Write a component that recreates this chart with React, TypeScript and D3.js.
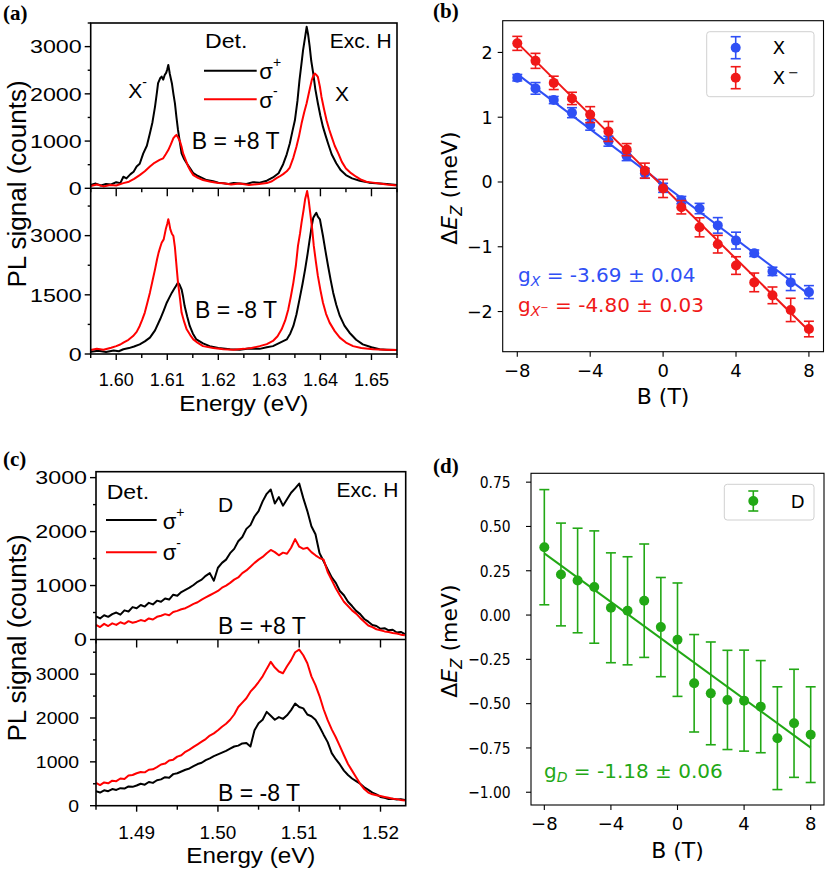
import React from 'react';
import * as d3 from 'd3';

const W = 825;
const H = 869;
const LF = '"Liberation Sans", Arial, sans-serif';
const MF = '"DejaVu Sans", sans-serif';
const SF = '"Liberation Serif", "DejaVu Serif", serif';
const BLACK = '#000000';
const RED = '#ff0000';
const BLUE = '#2f4ff5';
const MRED = '#f01818';
const GREEN = '#22a815';

// ---------- Panel (a): spectra, X and X- ----------
const aTopPlusE = [1.595, 1.596, 1.597, 1.598, 1.599, 1.6, 1.6008, 1.6014, 1.602, 1.6028, 1.6034, 1.604, 1.6046, 1.6053, 1.606, 1.6066, 1.6071, 1.6076, 1.608, 1.6082, 1.6086, 1.6089, 1.6092, 1.6095, 1.6098, 1.61, 1.6102, 1.6105, 1.6109, 1.6112, 1.6115, 1.6118, 1.6121, 1.6125, 1.6128, 1.6133, 1.6138, 1.6145, 1.6151, 1.616, 1.6168, 1.6177, 1.619, 1.62, 1.621, 1.622, 1.623, 1.6242, 1.6255, 1.6268, 1.6281, 1.6295, 1.6307, 1.6318, 1.6327, 1.6334, 1.634, 1.6345, 1.635, 1.6355, 1.6359, 1.6363, 1.6366, 1.637, 1.6373, 1.6376, 1.6379, 1.6382, 1.6386, 1.639, 1.6395, 1.64, 1.6405, 1.641, 1.6415, 1.6422, 1.6431, 1.644, 1.645, 1.6462, 1.6477, 1.6495, 1.6516, 1.653, 1.655];
const aTopPlusI = [70, 100, 60, 90, 80, 130, 110, 245, 210, 300, 350, 460, 520, 740, 900, 1165, 1400, 1730, 2050, 2225, 2330, 2365, 2300, 2400, 2450, 2520, 2612, 2420, 2225, 2000, 1800, 1500, 1235, 950, 740, 620, 530, 420, 320, 260, 220, 175, 150, 120, 105, 90, 110, 100, 90, 130, 120, 160, 230, 320, 510, 720, 950, 1200, 1440, 1850, 2290, 2650, 2925, 3200, 3420, 3250, 3000, 2700, 2430, 2100, 1800, 1530, 1300, 1120, 950, 720, 530, 380, 280, 210, 160, 120, 100, 90, 70];
const aTopMinusE = [1.595, 1.5962, 1.5975, 1.5988, 1.6, 1.6014, 1.6025, 1.6035, 1.6046, 1.6056, 1.6066, 1.6075, 1.6085, 1.6092, 1.6097, 1.6102, 1.6107, 1.6112, 1.6115, 1.6118, 1.6121, 1.6125, 1.6128, 1.6131, 1.6136, 1.6141, 1.6146, 1.6151, 1.616, 1.617, 1.6185, 1.62, 1.621, 1.6225, 1.6242, 1.626, 1.628, 1.6295, 1.6305, 1.6314, 1.632, 1.6327, 1.6334, 1.634, 1.6347, 1.6353, 1.6358, 1.6363, 1.6368, 1.6373, 1.6378, 1.6383, 1.6386, 1.6389, 1.6392, 1.6395, 1.6399, 1.6402, 1.6407, 1.6412, 1.6417, 1.6422, 1.6428, 1.6435, 1.6442, 1.645, 1.646, 1.647, 1.648, 1.649, 1.6503, 1.6516, 1.653, 1.655];
const aTopMinusI = [50, 80, 40, 70, 60, 110, 140, 200, 280, 360, 460, 540, 600, 635, 720, 810, 930, 1060, 1100, 1130, 1080, 990, 880, 740, 600, 460, 360, 280, 220, 175, 140, 110, 105, 80, 100, 70, 90, 110, 150, 215, 250, 300, 360, 440, 650, 880, 1100, 1370, 1600, 1800, 2050, 2290, 2380, 2430, 2400, 2360, 2150, 1940, 1680, 1440, 1250, 1090, 900, 740, 560, 420, 320, 245, 180, 140, 120, 100, 80, 60];
const aBotPlusE = [1.595, 1.5965, 1.598, 1.5995, 1.6005, 1.6014, 1.6025, 1.6035, 1.6046, 1.6056, 1.6066, 1.6076, 1.6086, 1.6093, 1.6099, 1.6104, 1.6109, 1.6113, 1.6117, 1.6121, 1.6124, 1.6128, 1.6131, 1.6134, 1.6139, 1.6144, 1.615, 1.6157, 1.617, 1.6183, 1.62, 1.6223, 1.6242, 1.626, 1.6281, 1.6295, 1.6307, 1.632, 1.6334, 1.6341, 1.6347, 1.6353, 1.6359, 1.6365, 1.637, 1.6375, 1.6379, 1.6383, 1.6386, 1.6389, 1.6392, 1.6395, 1.6399, 1.6402, 1.6405, 1.641, 1.6415, 1.642, 1.6425, 1.6431, 1.6438, 1.6447, 1.6457, 1.647, 1.6483, 1.65, 1.6516, 1.653, 1.655];
const aBotPlusI = [60, 80, 50, 90, 70, 120, 150, 190, 245, 320, 415, 600, 880, 1100, 1300, 1430, 1555, 1640, 1725, 1810, 1760, 1640, 1450, 1215, 950, 710, 520, 370, 270, 200, 150, 120, 110, 140, 130, 170, 200, 280, 370, 520, 710, 1000, 1385, 1780, 2145, 2550, 2905, 3250, 3455, 3520, 3580, 3480, 3415, 3200, 2990, 2600, 2230, 1880, 1555, 1250, 965, 720, 540, 360, 245, 170, 120, 110, 100];
const aBotMinusE = [1.595, 1.5962, 1.5975, 1.599, 1.6, 1.6008, 1.6014, 1.6024, 1.6033, 1.604, 1.6046, 1.6051, 1.6056, 1.6061, 1.6066, 1.6071, 1.6076, 1.608, 1.6083, 1.6086, 1.6089, 1.6093, 1.6097, 1.61, 1.6102, 1.6104, 1.6106, 1.6109, 1.6112, 1.6115, 1.6117, 1.6119, 1.6121, 1.6125, 1.6128, 1.6133, 1.6138, 1.6145, 1.6151, 1.616, 1.617, 1.619, 1.621, 1.623, 1.625, 1.6265, 1.6281, 1.6295, 1.6307, 1.6316, 1.6324, 1.6331, 1.6337, 1.6342, 1.6347, 1.6352, 1.6356, 1.636, 1.6363, 1.6367, 1.637, 1.6374, 1.6377, 1.638, 1.6384, 1.6387, 1.6391, 1.6395, 1.64, 1.6405, 1.6411, 1.6418, 1.6428, 1.6438, 1.645, 1.6464, 1.648, 1.6503, 1.6525, 1.655];
const aBotMinusI = [100, 135, 110, 160, 200, 240, 290, 360, 455, 560, 710, 870, 1050, 1300, 1555, 1850, 2145, 2400, 2570, 2700, 2820, 2905, 3160, 3300, 3415, 3300, 3160, 3050, 2990, 2700, 2400, 2100, 1810, 1400, 1050, 820, 625, 480, 370, 280, 200, 150, 120, 110, 130, 150, 200, 250, 330, 450, 625, 850, 1130, 1450, 1810, 2250, 2740, 3050, 3330, 3650, 3920, 4130, 3900, 3580, 3150, 2740, 2350, 1980, 1620, 1300, 1020, 795, 580, 415, 290, 200, 150, 120, 110, 100];

// ---------- Panel (c): spectra, D (shared energy grid) ----------
const cEnergy = [
  1.485, 1.4855, 1.486, 1.4865, 1.487, 1.4875, 1.488, 1.4885, 1.489, 1.4895,
  1.49, 1.4905, 1.491, 1.4915, 1.492, 1.4925, 1.493, 1.4935, 1.494, 1.4945,
  1.495, 1.4955, 1.496, 1.4965, 1.497, 1.4975, 1.498, 1.4985, 1.499, 1.4995,
  1.5, 1.5005, 1.501, 1.5015, 1.502, 1.5025, 1.503, 1.5035, 1.504, 1.5045,
  1.505, 1.5055, 1.506, 1.5065, 1.507, 1.5075, 1.508, 1.5085, 1.509, 1.5095,
  1.51, 1.5105, 1.511, 1.5115, 1.512, 1.5125, 1.513, 1.5135, 1.514, 1.5145,
  1.515, 1.5155, 1.516, 1.5165, 1.517, 1.5175, 1.518, 1.5185, 1.519, 1.5195,
  1.52, 1.5205, 1.521, 1.5215, 1.522, 1.5225, 1.523,
];
const cTopPlus = [
  430, 390, 450, 420, 470, 500, 460, 540, 520, 600,
  580, 640, 610, 680, 650, 720, 700, 760, 740, 830,
  810, 880, 920, 960, 1010, 1070, 1110, 1180, 1230, 1090,
  1330, 1420, 1480, 1600, 1680, 1820, 1900, 2050, 2120, 2280,
  2380, 2560, 2700, 2780, 2520, 2640, 2480, 2600, 2720, 2800,
  2890, 2620, 2380, 2100, 1950, 1600, 1450, 1300, 1150, 1050,
  900, 820, 700, 620, 530, 470, 380, 330, 270, 250,
  200, 210, 170, 180, 130, 140, 100,
];
const cTopMinus = [
  270, 230, 290, 250, 300, 270, 320, 290, 340, 310,
  330, 360, 340, 390, 370, 420, 440, 470, 450, 510,
  530, 560, 580, 620, 660, 690, 740, 780, 820, 860,
  900, 960, 1000, 1050, 1110, 1150, 1230, 1280, 1350, 1420,
  1480, 1530, 1600, 1660, 1620, 1560, 1610, 1590, 1700, 1860,
  1720, 1680, 1700, 1620, 1560, 1510, 1480, 1250, 1100, 950,
  820, 700, 620, 540, 480, 400, 330, 260, 230, 190,
  170, 150, 140, 120, 110, 90, 80,
];
const cBotPlus = [
  330, 300, 350, 330, 380, 360, 400, 390, 440, 430,
  460, 500, 480, 540, 520, 580, 600, 650, 640, 720,
  740, 780, 820, 850, 900, 950, 980, 1040, 1080, 1130,
  1170, 1210, 1250, 1300, 1350, 1370, 1420, 1430, 1350, 1720,
  1880, 1960, 2140, 2050, 1960, 2020, 1980, 2060, 2180, 2330,
  2250, 2220, 2080, 2040, 1960, 1800, 1620, 1450, 1200, 1060,
  940, 800, 700, 620, 560, 500, 420, 360, 300, 260,
  200, 180, 150, 160, 140, 150, 130,
];
const cBotMinus = [
  520, 470, 530, 510, 570, 560, 620, 610, 690, 700,
  740, 770, 760, 820, 830, 880, 940, 960, 1030, 1050,
  1120, 1150, 1230, 1280, 1340, 1400, 1460, 1520, 1600, 1650,
  1720, 1800, 1870, 1960, 2080, 2250, 2350, 2450, 2600, 2700,
  2820, 2950, 3120, 3280, 3150, 3060, 3020, 3180, 3320, 3500,
  3560, 3430, 3250, 2950, 2750, 2500, 2200, 1950, 1740, 1560,
  1360, 1150, 950, 800, 650, 500, 380, 300, 260, 240,
  220, 200, 180, 160, 150, 130, 120,
];

// ---------- Panels (b), (d): Zeeman splitting ----------
const bField = [-8, -7, -6, -5, -4, -3, -2, -1, 0, 1, 2, 3, 4, 5, 6, 7, 8];
const xSplit = [1.61, 1.445, 1.265, 1.07, 0.88, 0.63, 0.4, 0.134, -0.09, -0.28, -0.41, -0.67, -0.905, -1.1, -1.38, -1.55, -1.7];
const xSplitErr = [0.05, 0.09, 0.055, 0.077, 0.08, 0.077, 0.07, 0.077, 0.07, 0.057, 0.08, 0.12, 0.13, 0.05, 0.064, 0.126, 0.1];
const xmSplit = [2.14, 1.87, 1.53, 1.29, 1.04, 0.78, 0.5, 0.175, -0.1, -0.39, -0.7, -0.96, -1.29, -1.55, -1.75, -1.975, -2.27];
const xmSplitErr = [0.108, 0.116, 0.103, 0.095, 0.123, 0.154, 0.093, 0.116, 0.14, 0.103, 0.147, 0.136, 0.136, 0.144, 0.129, 0.18, 0.12];
const dSplit = [0.383, 0.229, 0.195, 0.158, 0.041, 0.024, 0.081, -0.068, -0.139, -0.385, -0.442, -0.479, -0.483, -0.517, -0.695, -0.611, -0.675];
const dSplitErr = [0.325, 0.29, 0.295, 0.317, 0.31, 0.305, 0.32, 0.28, 0.32, 0.275, 0.29, 0.28, 0.285, 0.26, 0.29, 0.305, 0.27];
const fitRange = [-8, 8];
const fitX = { slope: -0.2125, intercept: -0.035 };
const fitXm = { slope: -0.2778, intercept: -0.075 };
const fitD = { slope: -0.0685, intercept: -0.2 };
const bTicks = [-8, -4, 0, 4, 8];
const bYTicks = [-2, -1, 0, 1, 2];
const dYTicks = [-1, -0.75, -0.5, -0.25, 0, 0.25, 0.5, 0.75];

function Txt({ x, y, size, family, anchor = 'start', sx = 1, fill = '#000', weight, children, rotate = 0 }: any) {
  const tr = `translate(${x},${y})${rotate ? ` rotate(${rotate})` : ''} scale(${sx},1)`;
  return (
    <text transform={tr} fontSize={size} fontFamily={family} textAnchor={anchor} fill={fill} fontWeight={weight}>
      {children}
    </text>
  );
}

type Curve = { e: number[]; v: number[]; color: string };

function SpectrumPanel(p: any) {
  const x = d3.scaleLinear().domain(p.xDomain).range([p.left, p.right]);
  const yT = d3.scaleLinear().domain([0, p.topMax]).range([p.mid, p.top]);
  const yB = d3.scaleLinear().domain([0, p.botMax]).range([p.bottom, p.mid]);
  const mk = (c: Curve, y: any) =>
    d3.line<number>().x((_, i) => x(c.e[i])).y((d) => y(d))(c.v) || '';
  const fmt = d3.format('.2f');
  return (
    <g>
      <defs>
        <clipPath id={`${p.id}-t`}><rect x={p.left} y={p.top} width={p.right - p.left} height={p.mid - p.top} /></clipPath>
        <clipPath id={`${p.id}-b`}><rect x={p.left} y={p.mid} width={p.right - p.left} height={p.bottom - p.mid} /></clipPath>
      </defs>
      <g clipPath={`url(#${p.id}-t)`}>
        {p.topCurves.map((c: Curve, i: number) => (
          <path key={i} d={mk(c, yT)} fill="none" stroke={c.color} strokeWidth={2} strokeLinejoin="round" />
        ))}
      </g>
      <g clipPath={`url(#${p.id}-b)`}>
        {p.botCurves.map((c: Curve, i: number) => (
          <path key={i} d={mk(c, yB)} fill="none" stroke={c.color} strokeWidth={2} strokeLinejoin="round" />
        ))}
      </g>
      <rect x={p.left} y={p.top} width={p.right - p.left} height={p.bottom - p.top} fill="none" stroke="#000" strokeWidth={1.6} />
      <line x1={p.left} x2={p.right} y1={p.mid} y2={p.mid} stroke="#000" strokeWidth={1.6} />
      {p.xMajor.map((t: number) => (
        <g key={`xm${t}`}>
          <line x1={x(t)} x2={x(t)} y1={p.mid} y2={p.mid + 8} stroke="#000" strokeWidth={1.4} />
          <line x1={x(t)} x2={x(t)} y1={p.bottom} y2={p.bottom + 6} stroke="#000" strokeWidth={1.4} />
          <Txt x={x(t)} y={p.xLabY} size={p.xLabSize} sx={p.xLabSx} family={LF} anchor="middle">{fmt(t)}</Txt>
        </g>
      ))}
      {p.xMinor.map((t: number) => (
        <g key={`xn${t}`}>
          <line x1={x(t)} x2={x(t)} y1={p.mid} y2={p.mid + 4} stroke="#000" strokeWidth={1.4} />
          <line x1={x(t)} x2={x(t)} y1={p.bottom} y2={p.bottom + 4} stroke="#000" strokeWidth={1.4} />
        </g>
      ))}
      {p.topMajor.map((t: number) => (
        <g key={`tm${t}`}>
          <line x1={p.left - 6} x2={p.left} y1={yT(t)} y2={yT(t)} stroke="#000" strokeWidth={1.4} />
          <Txt x={p.topLabX} y={yT(t) + p.topLabSize * 0.36} size={p.topLabSize} sx={p.topLabSx} family={LF} anchor="end">{t}</Txt>
        </g>
      ))}
      {p.topMinor.map((t: number) => (
        <line key={`tn${t}`} x1={p.left - 3} x2={p.left} y1={yT(t)} y2={yT(t)} stroke="#000" strokeWidth={1.4} />
      ))}
      {p.botMajor.map((t: number) => (
        <g key={`bm${t}`}>
          <line x1={p.left - 6} x2={p.left} y1={yB(t)} y2={yB(t)} stroke="#000" strokeWidth={1.4} />
          <Txt x={p.botLabX} y={yB(t) + p.botLabSize * 0.36} size={p.botLabSize} sx={p.botLabSx} family={LF} anchor="end">{t}</Txt>
        </g>
      ))}
      {p.botMinor.map((t: number) => (
        <line key={`bn${t}`} x1={p.left - 3} x2={p.left} y1={yB(t)} y2={yB(t)} stroke="#000" strokeWidth={1.4} />
      ))}
      <Txt x={(p.left + p.right) / 2} y={p.eLabY} size={22} sx={1.1} family={LF} anchor="middle">Energy (eV)</Txt>
      <Txt x={26} y={p.yLabCenter} size={26} family={LF} anchor="middle" rotate={-90}>PL signal (counts)</Txt>
    </g>
  );
}

function ErrSeries({ x, y, vals, errs, color }: any) {
  return (
    <g>
      {bField.map((b, i) => {
        const cx = x(b);
        const y1 = y(vals[i] - errs[i]);
        const y2 = y(vals[i] + errs[i]);
        return (
          <g key={b}>
            <line x1={cx} x2={cx} y1={y1} y2={y2} stroke={color} strokeWidth={1.6} />
            <line x1={cx - 5} x2={cx + 5} y1={y1} y2={y1} stroke={color} strokeWidth={1.6} />
            <line x1={cx - 5} x2={cx + 5} y1={y2} y2={y2} stroke={color} strokeWidth={1.6} />
            <circle cx={cx} cy={y(vals[i])} r={5} fill={color} />
          </g>
        );
      })}
    </g>
  );
}

function LegendMark({ cx, cy, color, half }: any) {
  return (
    <g>
      <line x1={cx} x2={cx} y1={cy - half} y2={cy + half} stroke={color} strokeWidth={1.6} />
      <line x1={cx - 5} x2={cx + 5} y1={cy - half} y2={cy - half} stroke={color} strokeWidth={1.6} />
      <line x1={cx - 5} x2={cx + 5} y1={cy + half} y2={cy + half} stroke={color} strokeWidth={1.6} />
      <circle cx={cx} cy={cy} r={5} fill={color} />
    </g>
  );
}

function ZeemanAxes(p: any) {
  const { x, y } = p;
  return (
    <g>
      <rect x={p.left} y={p.top} width={p.right - p.left} height={p.bottom - p.top} fill="none" stroke="#000" strokeWidth={1.1} />
      {bTicks.map((t) => (
        <g key={`x${t}`}>
          <line x1={x(t)} x2={x(t)} y1={p.bottom} y2={p.bottom + 5} stroke="#000" strokeWidth={1.1} />
          <Txt x={x(t)} y={p.xLabY} size={18} family={MF} anchor="middle">{t < 0 ? `\u2212${-t}` : `${t}`}</Txt>
        </g>
      ))}
      {p.yTicks.map((t: number) => (
        <g key={`y${t}`}>
          <line x1={p.left - 5} x2={p.left} y1={y(t)} y2={y(t)} stroke="#000" strokeWidth={1.1} />
          <Txt x={p.yLabX} y={y(t) + p.yLabSize * 0.36} size={p.yLabSize} sx={p.yLabSx} family={MF} anchor="end">
            {p.yFmt(t)}
          </Txt>
        </g>
      ))}
      <Txt x={(p.left + p.right) / 2} y={p.bLabY} size={22} family={MF} anchor="middle">B (T)</Txt>
      <text transform={`translate(457,${p.yLabCenter}) rotate(-90)`} fontSize={22} fontFamily={MF} textAnchor="middle">
        Δ<tspan fontStyle="italic">E</tspan>
        <tspan fontStyle="italic" fontSize={15} dy={5}>Z</tspan>
        <tspan dy={-5}> (meV)</tspan>
      </text>
    </g>
  );
}

export default function App() {
  const bL = 502.7, bR = 823.5, bT = 20.7, bB = 351.7;
  const xb = d3.scaleLinear().domain([-8.8, 8.8]).range([bL, bR]);
  const yb = d3.scaleLinear().domain([-2.62, 2.49]).range([bB, bT]);
  const dL = 531, dR = 824, dT = 473.3, dB = 805;
  const xd = d3.scaleLinear().domain([-8.8, 8.8]).range([dL, dR]);
  const yd = d3.scaleLinear().domain([-1.072, 0.8]).range([dB, dT]);
  const fitLine = (xs: any, ys: any, f: any) =>
    d3.line<number>().x((b) => xs(b)).y((b) => ys(f.slope * b + f.intercept))(fitRange) || '';

  const aMajorX = [1.6, 1.61, 1.62, 1.63, 1.64, 1.65];
  const aMinorX = [1.595, 1.605, 1.615, 1.625, 1.635, 1.645, 1.655];
  const cMajorX = [1.49, 1.5, 1.51, 1.52];
  const cMinorX = [1.485, 1.495, 1.505, 1.515];

  return (
    <svg width={W} height={H} style={{ position: 'absolute', left: 0, top: 0, background: '#fff' }}>
      <rect width={W} height={H} fill="#fff" />
      {/* ---------- (a) ---------- */}
      <SpectrumPanel
        id="pa" left={90.7} right={397} top={23} mid={188.3} bottom={354}
        xDomain={[1.595, 1.655]} topMax={3500} botMax={4200}
        xMajor={aMajorX} xMinor={aMinorX}
        topMajor={[0, 1000, 2000, 3000]} topMinor={[500, 1500, 2500, 3500]}
        botMajor={[0, 1500, 3000]} botMinor={[750, 2250, 3750]}
        topCurves={[{ e: aTopPlusE, v: aTopPlusI, color: BLACK }, { e: aTopMinusE, v: aTopMinusI, color: RED }]}
        botCurves={[{ e: aBotPlusE, v: aBotPlusI, color: BLACK }, { e: aBotMinusE, v: aBotMinusI, color: RED }]}
        xLabY={386} xLabSize={19} xLabSx={0.95}
        topLabX={81.7} topLabSize={18.6} topLabSx={1.25}
        botLabX={81.7} botLabSize={18.6} botLabSx={1.25}
        eLabY={411} yLabCenter={184}
      />
      <Txt x={205} y={48.3} size={21} sx={1.1} family={LF}>Det.</Txt>
      <Txt x={391.7} y={48.3} size={21} family={LF} anchor="end">Exc. H</Txt>
      <line x1={204} x2={256.7} y1={70.7} y2={70.7} stroke={BLACK} strokeWidth={2} />
      <line x1={204} x2={256.7} y1={99.3} y2={99.3} stroke={RED} strokeWidth={2} />
      <text x={259.3} y={79} fontSize={22} fontFamily={LF}>σ<tspan fontSize={14} dy={-12}>+</tspan></text>
      <text x={259.3} y={108.3} fontSize={22} fontFamily={LF}>σ<tspan fontSize={14} dy={-12}>-</tspan></text>
      <text x={128.3} y={98.3} fontSize={21} fontFamily={LF}>X<tspan fontSize={14} dy={-11}>-</tspan></text>
      <Txt x={335} y={100.7} size={21} family={LF}>X</Txt>
      <Txt x={191.7} y={149.3} size={23} family={LF}>B = +8 T</Txt>
      <Txt x={195} y={318.3} size={23} family={LF}>B = -8 T</Txt>

      {/* ---------- (c) ---------- */}
      <SpectrumPanel
        id="pc" left={96} right={405.7} top={471.7} mid={639.5} bottom={805.7}
        xDomain={[1.485, 1.5231]} topMax={3110} botMax={3790}
        xMajor={cMajorX} xMinor={cMinorX}
        topMajor={[0, 1000, 2000, 3000]} topMinor={[500, 1500, 2500]}
        botMajor={[0, 1000, 2000, 3000]} botMinor={[500, 1500, 2500, 3500]}
        topCurves={[{ e: cEnergy, v: cTopPlus, color: BLACK }, { e: cEnergy, v: cTopMinus, color: RED }]}
        botCurves={[{ e: cEnergy, v: cBotPlus, color: BLACK }, { e: cEnergy, v: cBotMinus, color: RED }]}
        xLabY={839.3} xLabSize={17.7} xLabSx={1.07}
        topLabX={87} topLabSize={18.6} topLabSx={1.25}
        botLabX={79} botLabSize={16.3} botLabSx={1.19}
        eLabY={863.3} yLabCenter={638}
      />
      <Txt x={106.7} y={499} size={21} sx={1.1} family={LF}>Det.</Txt>
      <Txt x={398.3} y={497.3} size={21} family={LF} anchor="end">Exc. H</Txt>
      <line x1={106} x2={156.7} y1={520} y2={520} stroke={BLACK} strokeWidth={2} />
      <line x1={106} x2={156.7} y1={552.3} y2={552.3} stroke={RED} strokeWidth={2} />
      <text x={162.7} y={529} fontSize={22} fontFamily={LF}>σ<tspan fontSize={14} dy={-12}>+</tspan></text>
      <text x={162.7} y={560} fontSize={22} fontFamily={LF}>σ<tspan fontSize={14} dy={-12}>-</tspan></text>
      <Txt x={218} y={511.7} size={21} family={LF}>D</Txt>
      <Txt x={218} y={634.3} size={23} family={LF}>B = +8 T</Txt>
      <Txt x={218} y={801} size={23} family={LF}>B = -8 T</Txt>

      {/* ---------- (b) ---------- */}
      <path d={fitLine(xb, yb, fitX)} stroke={BLUE} strokeWidth={2} fill="none" />
      <path d={fitLine(xb, yb, fitXm)} stroke={MRED} strokeWidth={2} fill="none" />
      <ErrSeries x={xb} y={yb} vals={xSplit} errs={xSplitErr} color={BLUE} />
      <ErrSeries x={xb} y={yb} vals={xmSplit} errs={xmSplitErr} color={MRED} />
      <ZeemanAxes
        x={xb} y={yb} left={bL} right={bR} top={bT} bottom={bB}
        yTicks={bYTicks} yFmt={(t: number) => (t < 0 ? `\u2212${-t}` : `${t}`)}
        yLabX={492.7} yLabSize={17.5} yLabSx={1}
        xLabY={376.7} bLabY={404} yLabCenter={188}
      />
      <rect x={706.7} y={31.7} width={107.3} height={65} rx={3} fill="#fff" fillOpacity={0.8} stroke="#d0d0d0" strokeWidth={1} />
      <LegendMark cx={735.7} cy={47.7} color={BLUE} half={11} />
      <LegendMark cx={735.7} cy={77.7} color={MRED} half={11} />
      <Txt x={772.7} y={54.3} size={18} family={MF}>X</Txt>
      <text x={772.7} y={84.3} fontSize={18} fontFamily={MF}>X<tspan fontSize={13} dx={3} dy={-7}>−</tspan></text>
      <text x={518} y={281.7} fontSize={20} fontFamily={MF} fill={BLUE}>
        g<tspan fontStyle="italic" fontSize={14} dy={4}>X</tspan><tspan dy={-4}> = -3.69 ± 0.04</tspan>
      </text>
      <text x={518} y={311.7} fontSize={20} fontFamily={MF} fill={MRED}>
        g<tspan fontStyle="italic" fontSize={14} dy={4}>X</tspan><tspan fontSize={10} dy={-5}>−</tspan><tspan dy={1}> = -4.80 ± 0.03</tspan>
      </text>

      {/* ---------- (d) ---------- */}
      <path d={fitLine(xd, yd, fitD)} stroke={GREEN} strokeWidth={2} fill="none" />
      <ErrSeries x={xd} y={yd} vals={dSplit} errs={dSplitErr} color={GREEN} />
      <ZeemanAxes
        x={xd} y={yd} left={dL} right={dR} top={dT} bottom={dB}
        yTicks={dYTicks} yFmt={(t: number) => (t < 0 ? `\u2212${d3.format('.2f')(-t)}` : d3.format('.2f')(t))}
        yLabX={510.7} yLabSize={16} yLabSx={0.87}
        xLabY={830} bLabY={858} yLabCenter={641}
      />
      <rect x={724.3} y={484.3} width={89.7} height={35.7} rx={3} fill="#fff" fillOpacity={0.8} stroke="#d0d0d0" strokeWidth={1} />
      <LegendMark cx={753.3} cy={501} color={GREEN} half={10} />
      <Txt x={797.7} y={507.5} size={18} family={MF} anchor="middle">D</Txt>
      <text x={544} y={778} fontSize={20} fontFamily={MF} fill={GREEN}>
        g<tspan fontStyle="italic" fontSize={14} dy={4}>D</tspan><tspan dy={-4}> = -1.18 ± 0.06</tspan>
      </text>

      {/* panel labels */}
      <Txt x={3} y={20} size={21} family={SF} weight="bold">(a)</Txt>
      <Txt x={433} y={18} size={21} family={SF} weight="bold">(b)</Txt>
      <Txt x={3} y={466} size={21} family={SF} weight="bold">(c)</Txt>
      <Txt x={433} y={473} size={21} family={SF} weight="bold">(d)</Txt>
    </svg>
  );
}
